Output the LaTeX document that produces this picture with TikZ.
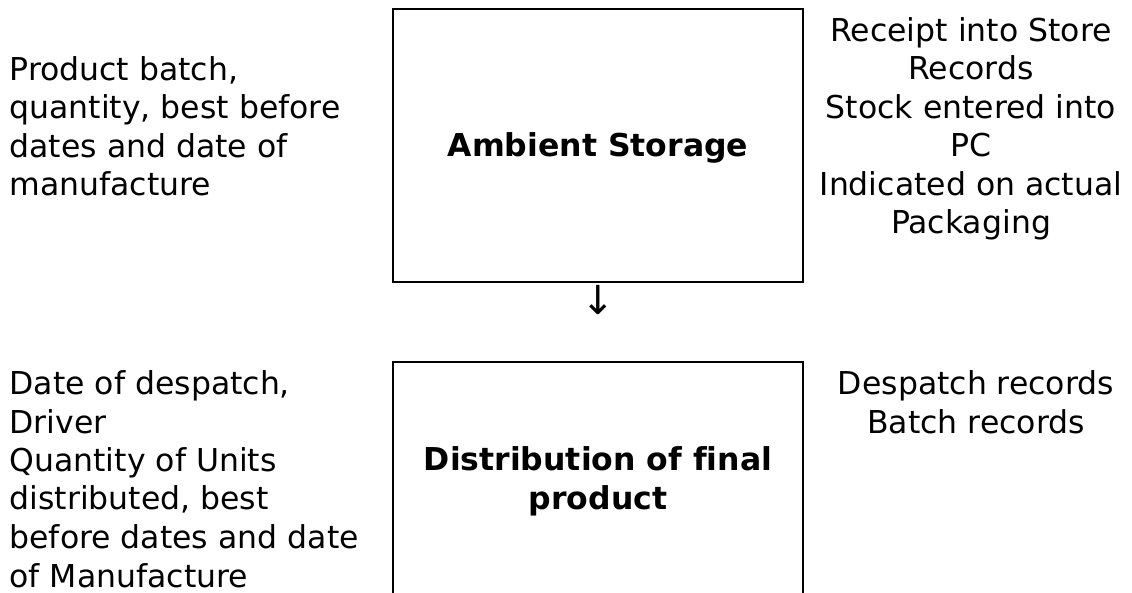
\documentclass[tikz,border=0pt]{standalone}
\usepackage{fontspec}
\setmainfont{DejaVu Sans}[Ligatures=NoCommon]
\begin{document}
\begin{tikzpicture}[x=1pt,y=-1pt,
  every node/.style={inner sep=0pt, outer sep=0pt},
  txt/.style={font=\fontsize{31.5}{38.5}\selectfont},
  boxnode/.style={draw, line width=2.2pt, minimum width=410pt,
    font=\fontsize{31.5}{38.5}\selectfont\bfseries, align=center}]
\useasboundingbox (0,0) rectangle (1132,593);
% boxes
\node[boxnode, minimum height=273pt, text height=23pt, text depth=0pt] (storage) at (598,145.5) {Ambient Storage};
\node[boxnode, minimum height=241pt] (distribution) at (598,482.5)
  {\begin{tabular}{@{}c@{}}Distribution of final\\product\end{tabular}};
% arrow glyph
\node[font=\fontsize{40}{40}\selectfont] (arrow) at (598,300) {↓};
% side texts
\node[txt, anchor=base west] (storageleft) at (9.6,80.2)
  {\begin{tabular}[t]{@{}l@{}}Product batch,\\quantity, best before\\dates and date of\\manufacture\end{tabular}};
\node[txt, anchor=base] (storageright) at (971,41.5)
  {\begin{tabular}[t]{@{}c@{}}Receipt into Store\\Records\\Stock entered into\\PC\\Indicated on actual\\Packaging\end{tabular}};
\node[txt, anchor=base west] (distleft) at (9.6,394.5)
  {\begin{tabular}[t]{@{}l@{}}Date of despatch,\\Driver\\Quantity of Units\\distributed, best\\before dates and date\\of Manufacture\end{tabular}};
\node[txt, anchor=base] (distright) at (976,394.5)
  {\begin{tabular}[t]{@{}c@{}}Despatch records\\Batch records\end{tabular}};
\end{tikzpicture}
\end{document}
